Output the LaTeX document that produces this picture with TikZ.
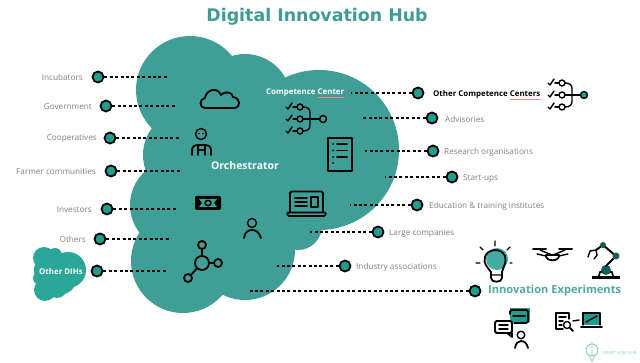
\documentclass[tikz,border=0pt]{standalone}
\usepackage{fontspec}
\setmainfont{Open Sans}
\newfontfamily\titlefont{DejaVu Sans}
\definecolor{hubteal}{HTML}{3F9E96}
\definecolor{dihteal}{HTML}{2BA79A}
\definecolor{dotteal}{HTML}{1F9E8F}
\definecolor{ttl}{HTML}{3F9C94}
\definecolor{labelgray}{HTML}{808080}
\definecolor{logoteal}{HTML}{8FCFC8}
\tikzset{
  lobe/.style={fill=hubteal,draw=none},
  dihlobe/.style={fill=dihteal,draw=none},
  hubdot/.style={circle,draw=black,line width=1.8pt,fill=dotteal,minimum size=11pt,inner sep=0pt},
  link/.style={draw=black,line width=1.8pt,dash pattern=on 3pt off 2.4pt},
  lab/.style={text=labelgray,font=\fontsize{8.2}{10}\selectfont,inner sep=0pt},
  whitelab/.style={text=white,font=\bfseries\fontsize{7.9}{9}\selectfont,inner sep=0pt},
  icon/.style={draw=black,line width=1.8pt,line cap=round,line join=round},
  thinicon/.style={draw=black,line width=1.4pt,line cap=round,line join=round},
  netnode/.style={circle,draw=black,line width=1.8pt,minimum size=8pt,inner sep=0pt},
}
\newcommand{\treeicon}[2]{%
  \begin{scope}[shift={(#1,#2)}]
    \foreach \yy in {-12,0,12}{
      \draw[thinicon] (-14,\yy) -- (-12,\yy+2) -- (-8,\yy-4);
      \draw[thinicon] (-7,\yy) -- (-3,\yy);
      \draw[thinicon] (0,\yy) circle (3);
    }
    \draw[thinicon] (3,-12) .. controls (8,-12) and (10,-10) .. (10,-6) -- (10,6) .. controls (10,10) and (8,12) .. (3,12);
    \draw[thinicon] (3,0) -- (20,0);
  \end{scope}}
\begin{document}
\begin{tikzpicture}[x=1pt,y=-1pt]
\useasboundingbox (0,0) rectangle (640,363);
\clip (0,0) rectangle (640,363);
% big cloud
\foreach \cx/\cy/\rr in {190/90/54, 245/100/46, 319/150/80, 183/261/52, 175/205/45, 188/155/45, 245/250/50, 298/226/24, 250/170/89}{
  \fill[lobe] (\cx,\cy) circle (\rr);
}
% small cloud
\foreach \cx/\cy/\rr in {44/258/11, 55/255/7, 68/270/18, 50/270/16, 45/290/11, 57/288/10, 40/278/7, 62/280/14}{
  \fill[dihlobe] (\cx,\cy) circle (\rr);
}
% title
\node[text=ttl,inner sep=0pt,font=\titlefont\bfseries\fontsize{17.4}{20}\selectfont] (title) at (317,17) {Digital Innovation Hub};
% left dots
\node[hubdot] (d1) at (98,77) {};
\node[hubdot] (d2) at (106,106) {};
\node[hubdot] (d3) at (110,138) {};
\node[hubdot] (d4) at (111,171) {};
\node[hubdot] (d5) at (107,209) {};
\node[hubdot] (d6) at (100,239) {};
\node[hubdot] (d7) at (97,271) {};
% right dots
\node[hubdot] (e1) at (418,93) {};
\node[hubdot] (e2) at (432,118) {};
\node[hubdot] (e3) at (433,151) {};
\node[hubdot] (e4) at (452,177) {};
\node[hubdot] (e5) at (417,205) {};
\node[hubdot] (e6) at (378,232) {};
\node[hubdot] (e7) at (345,266) {};
\node[hubdot] (e8) at (475,291) {};
% free ends
\coordinate (f1) at (167,77);
\coordinate (f2) at (175,106);
\coordinate (f3) at (179,138);
\coordinate (f4) at (180,171);
\coordinate (f5) at (176,209);
\coordinate (f6) at (169,239);
\coordinate (f7) at (166,271);
\coordinate (g1) at (351,93);
\coordinate (g2) at (363,118);
\coordinate (g3) at (365,151);
\coordinate (g4) at (385,177);
\coordinate (g5) at (350,205);
\coordinate (g6) at (310,232);
\coordinate (g7) at (277,266);
\coordinate (g8) at (248,291);
\foreach \n in {1,...,7}{ \draw[link] (d\n) -- (f\n); }
\foreach \n in {1,...,8}{ \draw[link] (e\n) -- (g\n); }
% labels
\node[lab,anchor=east] (l1) at (83,77.5) {Incubators};
\node[lab,anchor=east] (l2) at (92,106.5) {Government};
\node[lab,anchor=east] (l3) at (97,138.5) {Cooperatives};
\node[lab,anchor=east] (l4) at (96,171.5) {Farmer communities};
\node[lab,anchor=east] (l5) at (92,209.5) {Investors};
\node[lab,anchor=east] (l6) at (86,239.5) {Others};
\node[whitelab] (l7) at (61,272) {Other DIHs};
\node[lab,anchor=west] (r2) at (445,119.5) {Advisories};
\node[lab,anchor=west] (r3) at (444,152.5) {Research organisations};
\node[lab,anchor=west] (r4) at (463,178.5) {Start-ups};
\node[lab,anchor=west] (r5) at (429,206.5) {Education \& training institutes};
\node[lab,anchor=west] (r6) at (389,233.5) {Large companies};
\node[lab,anchor=west] (r7) at (356,267.5) {Industry associations};
\node[anchor=west,inner sep=0pt,font=\bfseries\fontsize{7.9}{9}\selectfont] (r1) at (433,94.5) {Other Competence Centers};
\node[whitelab,anchor=west] (cc) at (266,93) {Competence Center};
\node[text=white,inner sep=0pt,font=\bfseries\fontsize{10.5}{12}\selectfont] (orch) at (245,165.5) {Orchestrator};
\node[anchor=west,inner sep=0pt,text=hubteal!90!white,font=\bfseries\fontsize{11.1}{13}\selectfont] (ie) at (488,291) {Innovation Experiments};
\node[anchor=west,inner sep=0pt,text=logoteal,font=\fontsize{4.2}{6}\selectfont] (logo) at (602,353) {SMART AGRI HUB};
% spell-check underlines
\draw[red!50,line width=.6pt] (510,99) -- (541,99);
\draw[red!50,line width=.6pt] (318,97.5) -- (344,97.5);
% cloud icon
\draw[icon] (205,108) .. controls (199,108) and (199,99) .. (205,98) .. controls (206,90) and (217,86) .. (221,95) .. controls (226,90) and (233,93) .. (233,97) .. controls (241,98) and (241,108) .. (234,108) -- cycle;
% orchestrator person
\draw[thinicon] (201,134) circle (5.5);
\fill (199,133.5) circle (.8) (203,133.5) circle (.8);
\draw[icon] (192,155) -- (192,150) .. controls (192,146) and (195,145) .. (199,145) -- (204,145) .. controls (208,145) and (211,146) .. (211,150) -- (211,155);
\draw[thinicon] (198,155) -- (198,146) (205,155) -- (205,146) (198,150) -- (205,150);
% trees
\treeicon{300}{119}
\treeicon{562}{95}
\draw[thinicon] (323,119) circle (3.5);
\draw[thinicon,fill=dotteal] (584,95) circle (3.5);
% document
\draw[icon] (328,138) rectangle (352,171);
\foreach \yy in {144,150.5,157}{
  \fill (333,\yy) circle (1);
  \draw[icon] (337,\yy) -- (347,\yy);
}
\fill (333,163) circle (1);
% money
\fill[black,rounded corners=2pt] (195,196) rectangle (221,210);
\fill[hubteal] (199,199) -- (217,199) -- (214,203) -- (217,207) -- (199,207) -- (202,203) -- cycle;
\draw[thinicon] (208,203) ellipse (3 and 2.6);
% laptop
\draw[icon,rounded corners=1.5pt] (290,212) -- (290,191.5) -- (323,191.5) -- (323,212);
\draw[icon,rounded corners=1pt] (287,212.5) -- (326,212.5) -- (325,216) -- (288,216) -- cycle;
\draw[icon] (295,198) -- (307,198) (295,202) -- (307,202) (295,206) -- (307,206);
\draw[thinicon] (311,197) rectangle (318,207);
% person
\draw[thinicon] (252,223) circle (4.5);
\draw[icon] (244,238) .. controls (245,232) and (248,230) .. (252,230) .. controls (256,230) and (259,232) .. (261,238);
% network
\node[circle,draw=black,line width=1.8pt,minimum size=14pt,inner sep=0pt] (hubc) at (202,263) {};
\node[netnode] (hubn) at (202,245) {};
\node[netnode] (hube) at (218,263) {};
\node[netnode] (hubs) at (188,278) {};
\draw[icon] (hubc) -- (hubn);
\draw[icon] (hubc) -- (hube);
\draw[icon] (hubc) -- (hubs);
% bulb
\fill[dotteal!85!white] (497,259) circle (11);
\draw[icon] (491,272) .. controls (487,267) and (483,263) .. (485,257) .. controls (487,249) and (501,247) .. (505,256) .. controls (507,262) and (503,268) .. (502,272) -- (502,278) .. controls (502,283) and (491,283) .. (491,278) -- cycle;
\draw[thinicon] (495,246) -- (495,241) (483,250) -- (480,247) (507,250) -- (510,247) (480,263) -- (476,263) (510,263) -- (512,263) (491,275) -- (502,275);
% drone
\draw[icon,line width=2pt] (533,249) -- (546,249) (559,249) -- (572,249);
\draw[thinicon] (540,250) -- (552,255) (565,250) -- (553,255);
\draw[thinicon] (537,254) -- (546,256) (568,254) -- (559,256);
\draw[icon] (546,255) -- (559,255) .. controls (560,262) and (545,262) .. (546,255) -- cycle;
% robot arm
\fill[black] (592,276.5) rectangle (620,279.5);
\draw[icon] (599,276) -- (600,272) -- (612,272) -- (613,276);
\fill[dotteal!60!black] (606,270) circle (5);
\draw[icon,line width=2pt] (606,266) -- (616,256) -- (603,245) -- (596,250);
\fill[dotteal!60!black] (616,256) circle (3.5) (603,245) circle (3);
\draw[thinicon] (596,250) -- (590,251) -- (588,257) (596,250) -- (597,255) -- (594,259);
% chat
\fill[dotteal] (510,308) rectangle (530,322);
\draw[icon,rounded corners=2pt] (510,314) -- (510,310) -- (528,310) -- (528,320) .. controls (528,323) and (525,323) .. (520,323) -- (514,323);
\draw[thinicon] (513,316) -- (525,316);
\draw[icon,rounded corners=1.5pt] (495,321) rectangle (512,333);
\draw[thinicon] (499,325) -- (508,325) (499,329) -- (508,329);
\draw[icon] (507,333) -- (512,337) -- (512,333);
\draw[thinicon] (521,335) circle (3.8);
\draw[icon] (515,348) .. controls (516,343) and (518,341) .. (521,341) .. controls (524,341) and (527,343) .. (528,348);
% document + magnifier + laptop
\draw[thinicon] (569,319) -- (569,313) -- (556,313) -- (556,329) -- (563,329);
\draw[thinicon] (559,317) -- (566,317) (559,321) -- (563,321) (559,325) -- (562,325);
\draw[thinicon] (567,325) circle (3.5);
\draw[icon] (570,328) -- (573,331);
\draw[thinicon] (573,321) -- (579,320);
\fill[dotteal] (583,313) rectangle (600,325);
\draw[thinicon] (583,325) -- (583,313) -- (600,313) -- (600,325);
\draw[thinicon] (586,322) -- (597,316);
\draw[icon] (581,327) -- (602,327);
% logo mark
\draw[logoteal,line width=1pt] (592,350) circle (6);
\draw[logoteal,line width=.8pt] (589,356) -- (592,361) -- (595,356) (592,344) -- (592,342) (592,346) -- (592,356);
\end{tikzpicture}
\end{document}
